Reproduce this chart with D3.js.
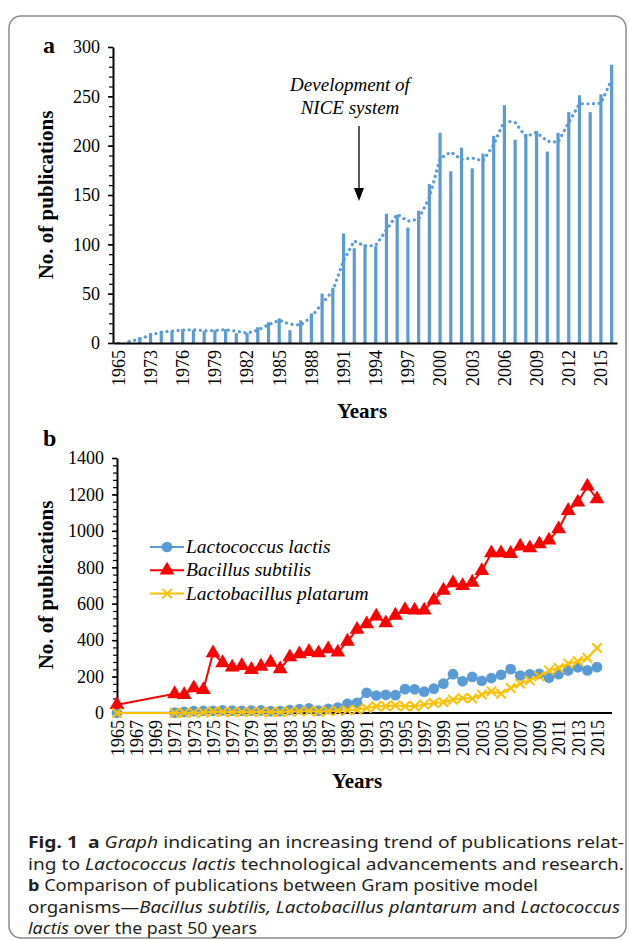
<!DOCTYPE html>
<html>
<head>
<meta charset="utf-8">
<script src="https://cdn.jsdelivr.net/npm/d3@7"></script>
<style>
  body { margin: 0; background: #fff; }
  text { font-family: "Liberation Serif", "Times New Roman", serif; fill: #000; }
  .cap { font-family: "Noto Sans", "Open Sans", sans-serif; font-size: 16px; fill: #231f20; }
</style>
</head>
<body>
<svg id="fig" width="629" height="940"></svg>
<script>
// ---- panel a : publications on Lactococcus lactis ----
const yearsA = ["1965","1971","1972","1973","1974","1975","1976","1977","1978","1979","1980",
  "1981","1982","1983","1984","1985","1986","1987","1988","1989","1990",
  "1991","1992","1993","1994","1995","1996","1997","1998","1999","2000",
  "2001","2002","2003","2004","2005","2006","2007","2008","2009","2010",
  "2011","2012","2013","2014","2015","2016"];
const lactisCounts = [1,
  2,6,10,12,12,14,13,12,13,14,
  10,10,16,21,25,13,23,30,50,56,
  111,96,100,98,131,130,117,134,161,213,
  174,198,177,192,210,241,206,212,215,194,
  213,234,251,234,252,282];
const tickYearsA = ["1965","1973","1976","1979","1982","1985","1988","1991","1994","1997",
  "2000","2003","2006","2009","2012","2015"];

// ---- panel b : comparison of organisms ----
const yearsB = [1965,
  1971,1972,1973,1974,1975,1976,1977,1978,1979,1980,
  1981,1982,1983,1984,1985,1986,1987,1988,1989,1990,
  1991,1992,1993,1994,1995,1996,1997,1998,1999,2000,
  2001,2002,2003,2004,2005,2006,2007,2008,2009,2010,
  2011,2012,2013,2014,2015];
const subtilisCounts = [45,
  105,100,137,128,329,275,251,260,238,256,
  278,242,307,324,337,329,351,333,393,458,
  489,531,494,536,567,564,564,619,673,714,
  699,717,781,878,878,875,915,906,928,948,
  1010,1111,1157,1245,1175];
const plantarumCounts = [0,
  0,1,2,3,8,6,5,5,5,6,
  5,5,8,9,10,8,10,12,15,18,
  27,37,37,42,37,37,46,55,59,73,
  82,80,101,119,106,137,161,179,201,234,
  247,271,284,302,357];
const tickYearsB = [1965,1967,1969,1971,1973,1975,1977,1979,1981,1983,1985,1987,1989,
  1991,1993,1995,1997,1999,2001,2003,2005,2007,2009,2011,2013,2015];
const seriesNames = ["Lactococcus lactis", "Bacillus subtilis", "Lactobacillus platarum"];
const seriesColors = ["#5b9bd5", "#ff0000", "#ffc000"];

const svg = d3.select("#fig");

// frame around the figure
svg.append("rect").attr("x", 9).attr("y", 16).attr("width", 617).attr("height", 922)
  .attr("rx", 12).attr("fill", "none").attr("stroke", "#8a8a8a").attr("stroke-width", 1.5);

function styleAxis(g) {
  g.select(".domain").attr("stroke", "#000").attr("stroke-width", 2);
  g.selectAll(".tick line").attr("stroke", "#000").attr("stroke-width", 1.5);
  g.selectAll(".tick text").attr("font-size", 18).attr("font-family", "Liberation Serif");
}

// ================= panel a =================
const ax = d3.scaleBand().domain(yearsA).range([113, 617]);
const ay = d3.scaleLinear().domain([0, 300]).range([343, 47]);

svg.append("text").attr("x", 43).attr("y", 53).attr("font-size", 24)
  .attr("font-weight", "bold").text("a");

// minor ticks
svg.append("g").attr("transform", "translate(113,0)")
  .call(d3.axisLeft(ay).tickValues(d3.range(0, 301, 10)).tickSize(4).tickFormat(""))
  .call(g => g.select(".domain").remove())
  .call(g => g.selectAll("line").attr("stroke", "#000").attr("stroke-width", 1.2));
svg.append("g").attr("transform", "translate(113,0)")
  .call(d3.axisLeft(ay).tickValues([0,50,100,150,200,250,300]).tickSize(5).tickSizeOuter(0).tickPadding(8))
  .call(styleAxis);

svg.append("g").selectAll("rect").data(lactisCounts).join("rect")
  .attr("x", (d, i) => ax(yearsA[i]) + ax.bandwidth() / 2 - 1.6)
  .attr("width", 3.2)
  .attr("y", d => ay(d))
  .attr("height", d => ay(0) - ay(d))
  .attr("fill", "#5b9bd5");

// 2 period moving average trendline
const movAvg = lactisCounts.map((d, i) => i === 0 ? null : (d + lactisCounts[i - 1]) / 2);
svg.append("path")
  .datum(movAvg.map((v, i) => [i, v]).filter(p => p[1] !== null))
  .attr("d", d3.line().x(p => ax(yearsA[p[0]]) + ax.bandwidth() / 2).y(p => ay(p[1])))
  .attr("fill", "none").attr("stroke", "#5b9bd5").attr("stroke-width", 3.2)
  .attr("stroke-linecap", "round").attr("stroke-dasharray", "0.1 5.5");

svg.append("g").attr("transform", "translate(0,343)")
  .call(d3.axisBottom(ax).tickValues(tickYearsA).tickSize(0).tickSizeOuter(0).tickPadding(0))
  .call(styleAxis)
  .call(g => g.selectAll(".tick text").attr("transform", "rotate(-90)")
    .attr("text-anchor", "end").attr("dy", "0.35em").attr("x", -7).attr("y", 0));

svg.append("text").attr("x", 362).attr("y", 418).attr("text-anchor", "middle")
  .attr("font-size", 21).attr("font-weight", "bold").text("Years");
svg.append("text").attr("transform", "translate(53,195) rotate(-90)").attr("text-anchor", "middle")
  .attr("font-size", 21).attr("font-weight", "bold").text("No. of publications");

// arrow + annotation
svg.append("text").attr("x", 350).attr("y", 91).attr("text-anchor", "middle")
  .attr("font-size", 19).attr("font-style", "italic").text("Development of");
svg.append("text").attr("x", 350).attr("y", 114).attr("text-anchor", "middle")
  .attr("font-size", 19).attr("font-style", "italic").text("NICE system");
svg.append("line").attr("x1", 359).attr("x2", 359).attr("y1", 126).attr("y2", 188)
  .attr("stroke", "#000").attr("stroke-width", 1.3);
svg.append("path").attr("d", "M354,188 L364,188 L359,201 Z").attr("fill", "#000");

// ================= panel b =================
const bx = d3.scaleLinear().domain([1965, 2015]).range([117, 597]);
const by = d3.scaleLinear().domain([0, 1400]).range([713, 458]);

svg.append("text").attr("x", 43).attr("y", 446).attr("font-size", 24)
  .attr("font-weight", "bold").text("b");

svg.append("g").attr("transform", "translate(117,0)")
  .call(d3.axisLeft(by).tickValues(d3.range(0, 1401, 40)).tickSize(4).tickFormat(""))
  .call(g => g.select(".domain").remove())
  .call(g => g.selectAll("line").attr("stroke", "#000").attr("stroke-width", 1.2));
svg.append("g").attr("transform", "translate(117,0)")
  .call(d3.axisLeft(by).tickValues(d3.range(0, 1401, 200)).tickFormat(d3.format("d"))
    .tickSize(5).tickSizeOuter(0).tickPadding(8))
  .call(styleAxis);

svg.append("g").attr("transform", "translate(0,713)")
  .call(d3.axisBottom(bx).tickValues(tickYearsB).tickFormat(d3.format("d")).tickSize(0).tickSizeOuter(0))
  .call(styleAxis)
  .call(g => g.select(".domain").attr("d", "M117,0H612"))
  .call(g => g.selectAll(".tick text").attr("transform", "rotate(-90)")
    .attr("text-anchor", "end").attr("dy", "0.35em").attr("x", -7).attr("y", 0));

svg.append("text").attr("x", 357).attr("y", 788).attr("text-anchor", "middle")
  .attr("font-size", 21).attr("font-weight", "bold").text("Years");
svg.append("text").attr("transform", "translate(53,585) rotate(-90)").attr("text-anchor", "middle")
  .attr("font-size", 21).attr("font-weight", "bold").text("No. of publications");

const seriesB = [lactisCounts.slice(0, yearsB.length), subtilisCounts, plantarumCounts];
const symbols = [d3.symbolCircle, d3.symbolTriangle, d3.symbolX];
const symSizes = [90, 95, 60];

function drawMarker(g, k, x, y) {
  const p = g.append("path").attr("transform", `translate(${x},${y})`)
    .attr("d", d3.symbol().type(symbols[k]).size(symSizes[k])());
  if (k === 2) p.attr("fill", "none").attr("stroke", seriesColors[k]).attr("stroke-width", 2);
  else p.attr("fill", seriesColors[k]);
}

seriesB.forEach((vals, k) => {
  const g = svg.append("g");
  g.append("path").datum(vals)
    .attr("d", d3.line().x((d, i) => bx(yearsB[i])).y(d => by(d)))
    .attr("fill", "none").attr("stroke", seriesColors[k]).attr("stroke-width", 2);
  vals.forEach((d, i) => drawMarker(g, k, bx(yearsB[i]), by(d)));
});

// legend
seriesNames.forEach((name, k) => {
  const yy = 547 + k * 23.3;
  const g = svg.append("g");
  g.append("line").attr("x1", 150).attr("x2", 184).attr("y1", yy).attr("y2", yy)
    .attr("stroke", seriesColors[k]).attr("stroke-width", 2);
  drawMarker(g, k, 167, yy);
  g.append("text").attr("x", 186).attr("y", yy + 6).attr("font-size", 19.5)
    .attr("font-style", "italic").text(name);
});

// ================= caption =================
const cap = svg.append("g").attr("class", "cap");
const capLines = [
  [["Fig. 1", "b"], ["  "], ["a", "b"], [" "], ["Graph", "i"], [" indicating an increasing trend of publications relat-"]],
  [["ing to "], ["Lactococcus lactis", "i"], [" technological advancements and research."]],
  [["b", "b"], [" Comparison of publications between Gram positive model"]],
  [["organisms—"], ["Bacillus subtilis, Lactobacillus plantarum", "i"], [" and "], ["Lactococcus", "i"]],
  [["lactis", "i"], [" over the past 50 years"]]
];
const capWidths = [596, 596, 510, 592, 229];
capLines.forEach((parts, li) => {
  const t = cap.append("text").attr("class", "cap").attr("x", 28).attr("y", 848 + li * 21.5)
    .attr("textLength", capWidths[li]).attr("lengthAdjust", "spacingAndGlyphs")
    .attr("xml:space", "preserve");
  parts.forEach(([s, st]) => {
    const ts = t.append("tspan").text(s);
    if (st === "b") ts.attr("font-weight", "bold");
    if (st === "i") ts.attr("font-style", "italic");
  });
});
</script>
</body>
</html>
